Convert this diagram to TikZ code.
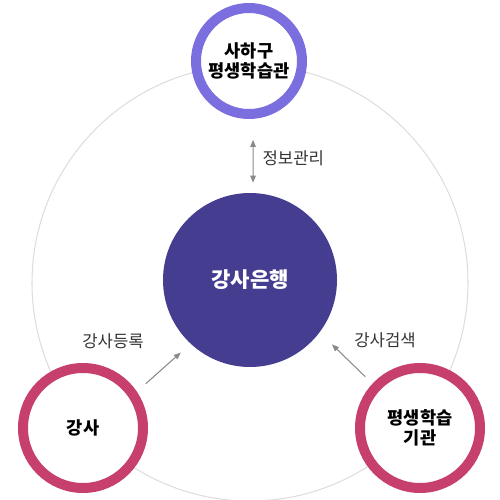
\documentclass[tikz,border=0pt]{standalone}
\usepackage{fontspec}
\setmainfont{Noto Sans CJK KR}
\usetikzlibrary{arrows.meta, positioning}
\definecolor{RINGPURPLE}{HTML}{7B6FDF}
\definecolor{BANKNAVY}{HTML}{453E90}
\definecolor{RINGPINK}{HTML}{C63F6D}
\definecolor{ORBITGRAY}{HTML}{DDDDDD}
\definecolor{ARRGRAY}{HTML}{8A8A8A}
\definecolor{LBLGRAY}{HTML}{333333}

\begin{document}
\begin{tikzpicture}[x=0.2mm, y=-0.2mm,
          ring/.style={circle, draw=#1, line width=2mm, fill=white, inner sep=0pt,
                       align=center, font=\bfseries\fontsize{10}{11}\selectfont},
          bankcircle/.style={circle, fill=BANKNAVY, minimum size=34.8mm, inner sep=0pt,
                       text=white, font=\bfseries\fontsize{12}{13}\selectfont},
          orbit/.style={draw=ORBITGRAY, line width=0.6pt},
          arr/.style={-{Triangle[length=1.4mm, width=1.1mm]}, line width=0.6pt, ARRGRAY},
          lbl/.style={text=LBLGRAY, font=\fontsize{9.5}{11}\selectfont, inner sep=0pt}
        ]
          \useasboundingbox (0,0) rectangle (500,500);
          \draw[orbit] (250,283) circle[radius=218];
          \node[bankcircle] (bank) at (250,280) {강사은행};
          \node[ring=RINGPURPLE, minimum size=21.2mm] (saha) at (249,61) {사하구\\평생학습관};
          \node[ring=RINGPINK, minimum size=24mm] (lecturer) at (83,428) {강사};
          \node[ring=RINGPINK, minimum size=24mm] (institute) at (420,428) {평생학습\\기관};
          % arrows to the bank
          \draw[arr, {Triangle[length=1.4mm, width=1.1mm]}-{Triangle[length=1.4mm, width=1.1mm]},
                shorten <=4.2mm, shorten >=2mm]
                (saha.274) -- node[lbl, right=1.8mm, yshift=-0.4mm] (info) {정보관리} (bank.88);
          \draw[arr, shorten <=2.4mm, shorten >=2.6mm] (lecturer.34) -- (bank.227);
          \draw[arr, shorten <=2mm, shorten >=3.4mm] (institute.137) -- (bank.323);
          \node[lbl] (register) at (113,341) {강사등록};
          \node[lbl] (search) at (385,340) {강사검색};
        \end{tikzpicture}
\end{document}
